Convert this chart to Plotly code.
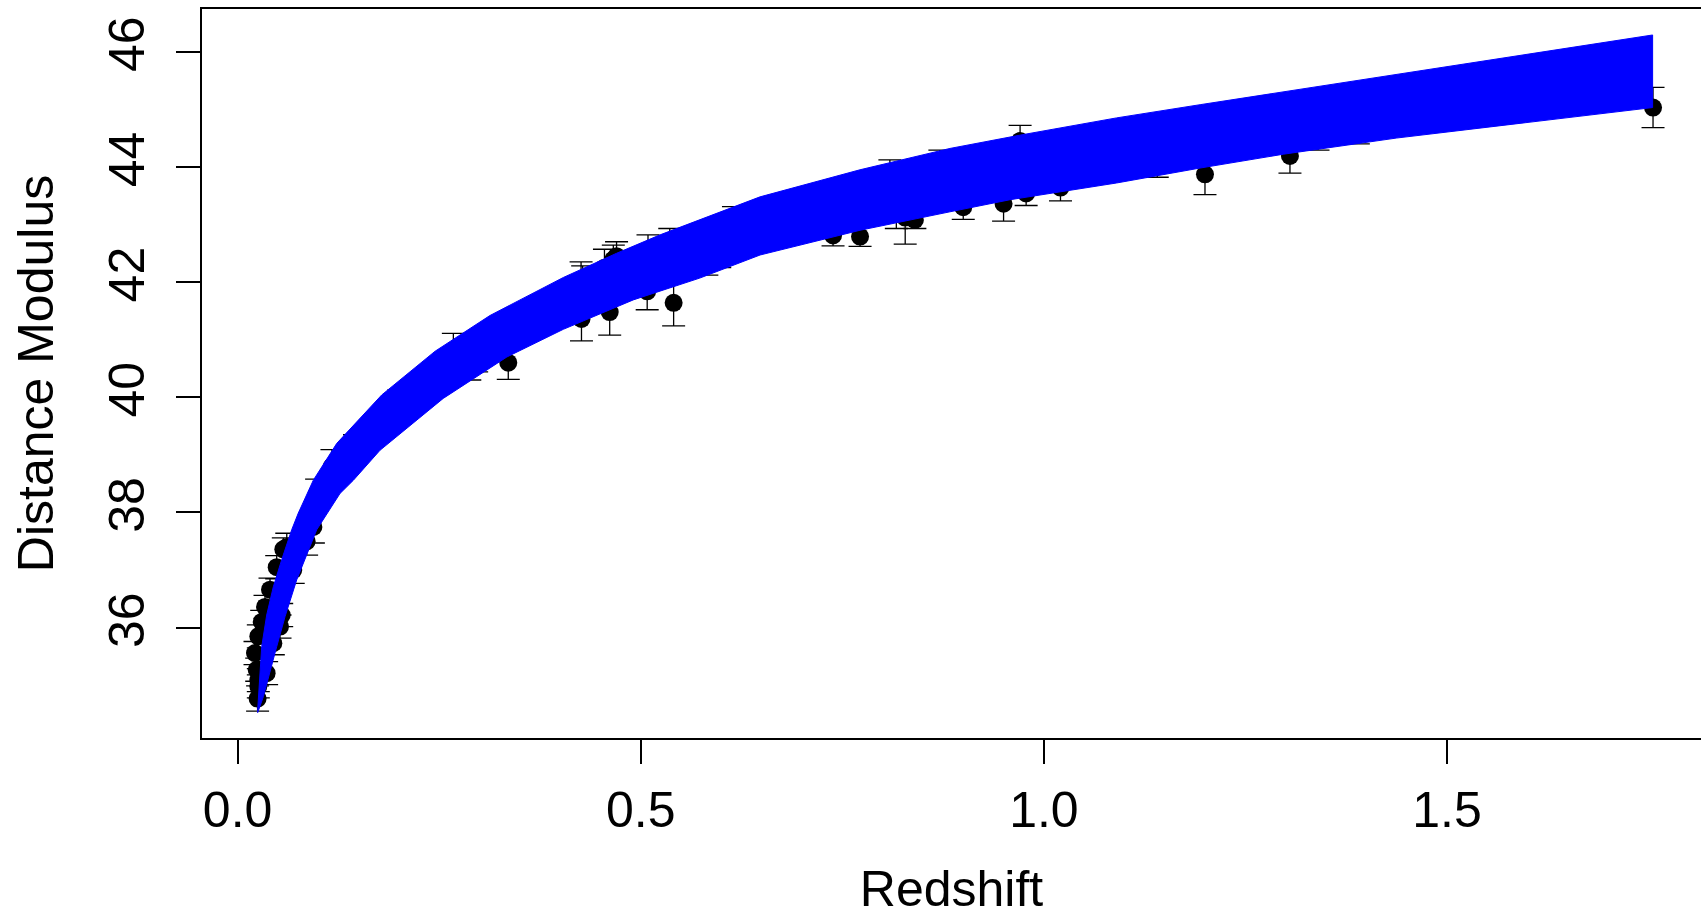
import plotly.graph_objects as go

# Supernova distance moduli with 1-sigma errors
redshift = [0.0248, 0.0257, 0.0237, 0.0216, 0.0257, 0.0360, 0.0443, 0.0299, 0.0526,
            0.0340, 0.0547, 0.0402, 0.0485, 0.0567, 0.0257,
            0.0610, 0.0690, 0.0856, 0.0940, 0.0980, 0.1170, 0.1450, 0.2000,
            0.2676, 0.2880, 0.2965, 0.3357, 0.4265, 0.4615, 0.5080, 0.5408,
            0.4260, 0.4280, 0.4550, 0.4700, 0.4660, 0.5090, 0.5360, 0.5820,
            0.5980, 0.6150, 0.7385, 0.7720, 0.8090, 0.8170, 0.8280, 0.8400,
            0.8710, 0.9000, 0.9500, 0.9705, 0.9780, 1.0206, 1.1406, 1.1998,
            1.3052, 1.3400, 1.3900, 1.7555]
mu = [34.77, 35.09, 35.27, 35.56, 35.85, 35.21, 35.73, 36.10, 36.02,
      36.36, 36.22, 36.66, 37.05, 37.36, 34.98,
      37.40, 37.00, 37.50, 37.75, 38.30, 38.80, 39.10, 39.85,
      40.80, 40.60, 40.74, 40.60, 41.36, 41.48, 41.84, 41.64,
      42.00, 41.95, 42.25, 42.45, 42.39, 42.50, 42.60, 42.45,
      42.55, 43.00, 42.81, 42.79, 43.80, 43.25, 43.12, 43.08,
      43.98, 43.30, 43.36, 44.45, 43.54, 43.64, 44.12, 43.87,
      44.19, 44.62, 44.72, 45.03]
mu_err = [0.22, 0.20, 0.20, 0.20, 0.20, 0.20, 0.20, 0.20, 0.20,
          0.20, 0.20, 0.20, 0.20, 0.20, 0.20,
          0.24, 0.23, 0.24, 0.28, 0.28, 0.29, 0.25, 0.28,
          0.31, 0.30, 0.30, 0.29, 0.38, 0.40, 0.32, 0.40,
          0.35, 0.33, 0.32, 0.25, 0.25, 0.32, 0.33, 0.33,
          0.30, 0.31, 0.18, 0.17, 0.32, 0.32, 0.46, 0.15,
          0.31, 0.21, 0.30, 0.27, 0.21, 0.23, 0.30, 0.35,
          0.30, 0.33, 0.32, 0.35]

# Envelope of the model curves (upper and lower edges)
band_upper_z = [0.0248, 0.0269, 0.0299, 0.0361, 0.0443, 0.0547, 0.0671, 0.0753, 0.0939,
                0.1230, 0.1787, 0.2450, 0.3130, 0.4040, 0.4700, 0.5240, 0.6480, 0.7720,
                0.8835, 0.9700, 1.0900, 1.1938, 1.2970, 1.4370, 1.7550]
band_upper_mu = [34.55, 35.09, 35.67, 36.22, 36.71, 37.18, 37.70, 37.99, 38.56,
                 39.20, 40.04, 40.80, 41.42, 42.08, 42.50, 42.82, 43.48, 43.95,
                 44.32, 44.55, 44.85, 45.08, 45.30, 45.60, 46.29]
band_lower_z = [0.0248, 0.0319, 0.0402, 0.0485, 0.0588, 0.0733, 0.0981, 0.1270, 0.1436,
                0.1766, 0.2550, 0.3340, 0.4040, 0.4906, 0.5733, 0.6480, 0.7720, 0.8835,
                0.9580, 1.0900, 1.1938, 1.2970, 1.4370, 1.7550]
band_lower_mu = [34.52, 34.80, 35.21, 35.67, 36.19, 36.83, 37.70, 38.33, 38.56,
                 39.08, 39.98, 40.70, 41.18, 41.69, 42.07, 42.47, 42.90, 43.22,
                 43.43, 43.72, 43.98, 44.22, 44.50, 45.03]

x_ticks = [0.0, 0.5, 1.0, 1.5]
x_tick_text = ["0.0", "0.5", "1.0", "1.5"]
y_ticks = [36, 38, 40, 42, 44, 46]
y_tick_text = ["36", "38", "40", "42", "44", "46"]

FONT = "Liberation Sans, Arial, Helvetica, sans-serif"

fig = go.Figure()

# Observed points with error bars
fig.add_trace(go.Scatter(
    x=redshift, y=mu, mode="markers",
    marker=dict(color="black", size=18, symbol="circle", line=dict(width=0)),
    error_y=dict(type="data", array=mu_err, visible=True,
                 color="black", thickness=1.3, width=11.5),
    showlegend=False, hoverinfo="x+y",
))

# Model envelope drawn over the data
poly_x = band_upper_z + band_lower_z[::-1]
poly_y = band_upper_mu + band_lower_mu[::-1]
fig.add_trace(go.Scatter(
    x=poly_x, y=poly_y, mode="lines", fill="toself",
    fillcolor="#0000FF", line=dict(color="#0000FF", width=1),
    showlegend=False, hoverinfo="skip",
))

fig.update_layout(
    width=1701, height=917,
    margin=dict(l=202, r=0, t=9, b=179),
    paper_bgcolor="white", plot_bgcolor="white",
    font=dict(family=FONT, color="black", size=50),
    showlegend=False,
    xaxis=dict(
        range=[-0.04415, 1.8150], showgrid=False, zeroline=False, automargin=False,
        showline=True, linecolor="black", linewidth=2, mirror=True,
        ticks="outside", ticklen=24, tickwidth=1.5, tickcolor="black",
        tickvals=x_ticks, ticktext=x_tick_text,
        tickfont=dict(size=50, family=FONT), ticklabelstandoff=3,
        title=dict(text="Redshift", font=dict(size=50, family=FONT), standoff=51),
    ),
    yaxis=dict(
        range=[34.085, 46.741], showgrid=False, zeroline=False, automargin=False,
        showline=True, linecolor="black", linewidth=2, mirror=False,
        ticks="outside", ticklen=24, tickwidth=1.5, tickcolor="black",
        tickvals=y_ticks, ticktext=y_tick_text, tickangle=-90,
        tickfont=dict(size=50, family=FONT), ticklabelstandoff=12,
        title=dict(text="Distance Modulus", font=dict(size=50, family=FONT), standoff=30),
    ),
)

fig.write_html("out.html")
